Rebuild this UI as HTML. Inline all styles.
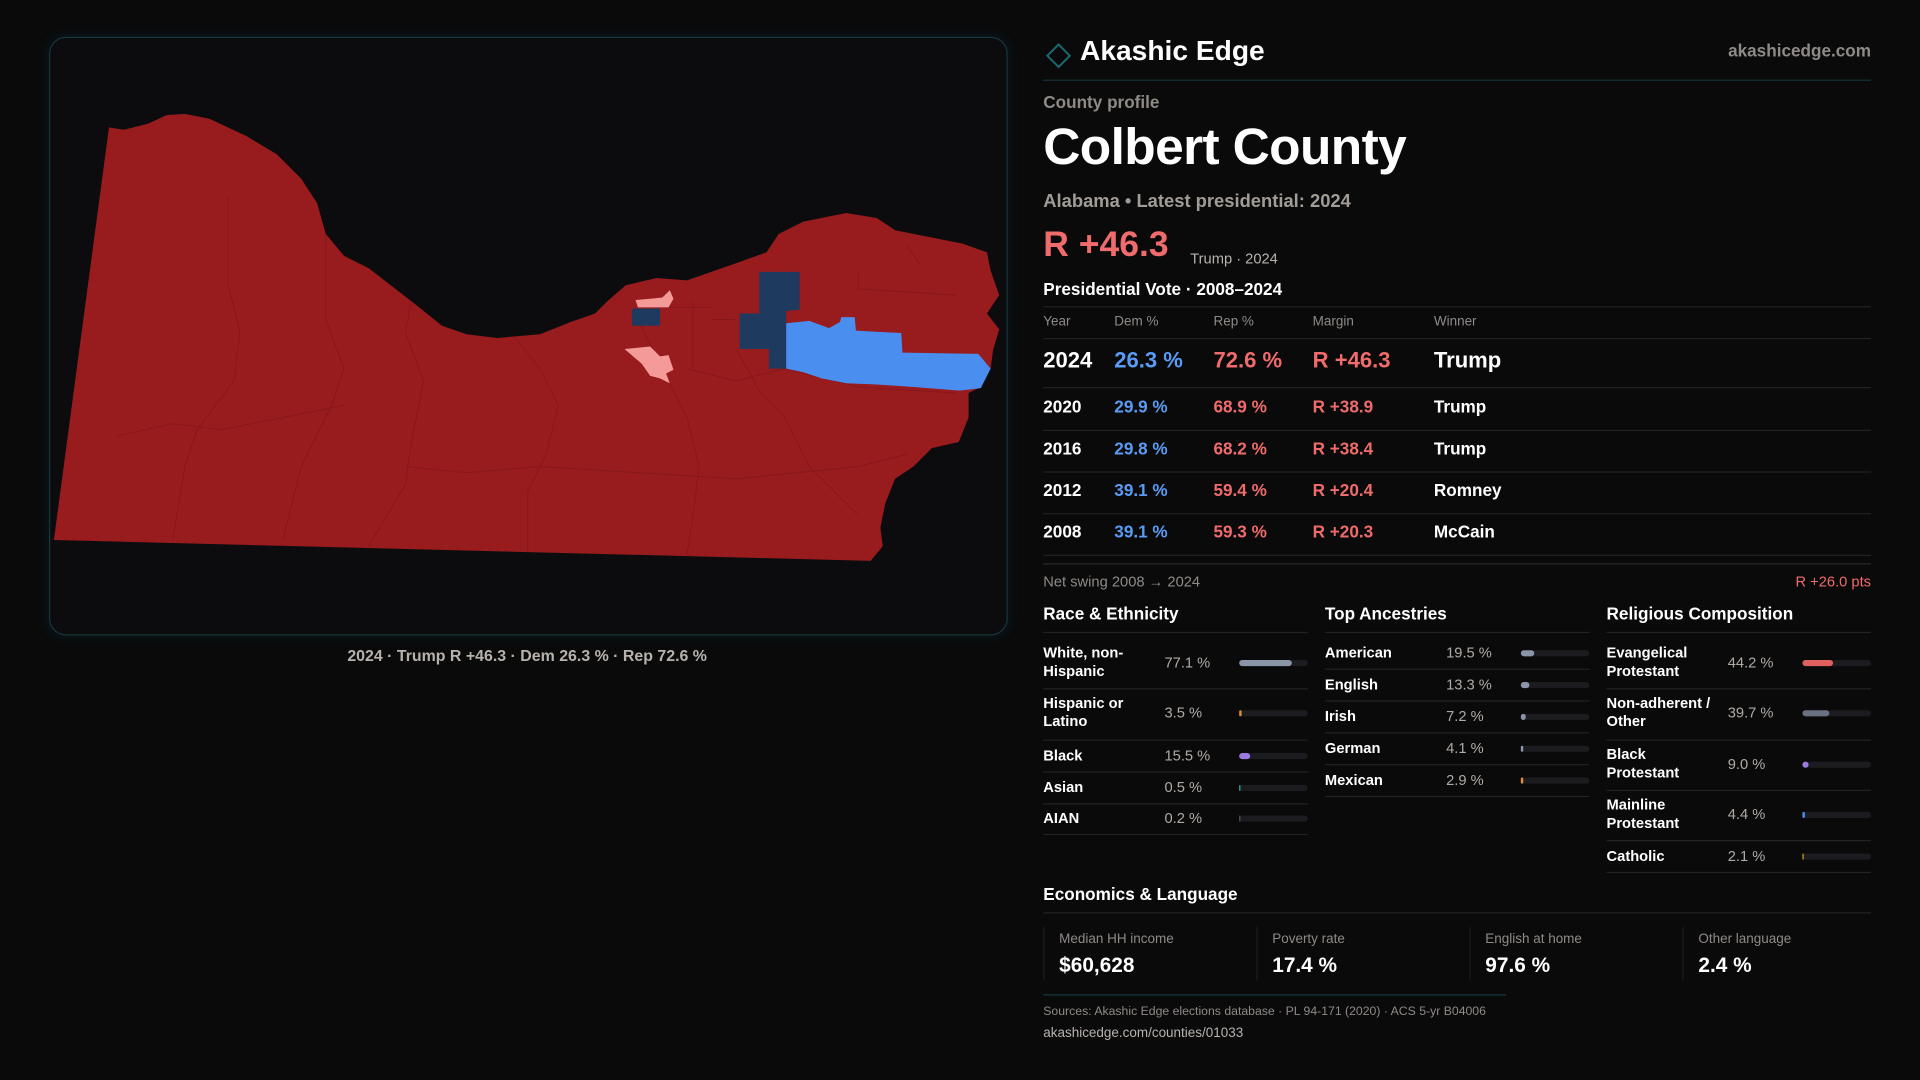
<!DOCTYPE html>
<html><head><meta charset="utf-8">
<style>
html,body{margin:0;padding:0;background:#0a0a0b;width:1920px;height:1080px;overflow:hidden}
#wrap{position:absolute;left:0;top:0;width:1568px;height:882px;transform:scale(1.2244898);transform-origin:0 0;font-family:"Liberation Sans",sans-serif;color:#fff}
.abs{position:absolute;white-space:nowrap}
.line{position:absolute;height:1px;background:#222226}
.gray{color:#8f8a86}
</style></head>
<body>
<div id="wrap">
  <div class="abs" style="left:40px;top:30px;width:781px;height:487px;border:1px solid #15363c;border-radius:14px;background:#0c0c0e;box-shadow:0 0 10px rgba(20,80,90,0.25)">
    <svg width="781" height="487" viewBox="40 30 781 487" style="position:absolute;left:0;top:0">
      <path fill="#981b1e" d="M88,103 L100,105 L120,100 L135,93 L150,92 L170,96 L200,110 L225,125 L245,145 L258,165 L265,190 L280,208 L300,218 L335,245 L360,265 L380,272 L405,275 L440,272 L465,262 L485,255 L495,245 L510,232 L535,226 L560,228 L600,214 L625,205 L635,190 L655,180 L690,173 L715,177 L730,187 L760,193 L785,198 L805,205 L808,220 L815,240 L805,255 L815,268 L810,285 L808,300 L800,315 L790,320 L790,340 L782,360 L760,365 L745,380 L730,390 L722,410 L718,430 L720,445 L710,457 L43,440 Z"/>
      <g stroke="#7d1519" stroke-width="0.7" fill="none" opacity="0.7">
        <path d="M185,160 L185,230 L195,270 L190,310 L160,350 L150,380 L140,440"/>
        <path d="M265,190 L265,260 L280,300 L270,330 L245,380 L230,440"/>
        <path d="M335,245 L330,270 L345,310 L335,360 L330,395 L300,445"/>
        <path d="M420,275 L440,300 L455,330 L445,370 L430,400 L430,450"/>
        <path d="M520,260 L540,300 L560,340 L570,380 L565,420 L560,452"/>
        <path d="M600,283 L620,320 L640,340 L660,380 L680,400 L700,420"/>
        <path d="M330,380 L380,385 L440,380 L520,385 L600,390 L700,380 L740,370"/>
        <path d="M95,355 L140,345 L180,350 L230,340 L280,330"/>
        <path d="M560,300 L600,310 L640,300 L700,315 L780,320"/>
        <path d="M565,245 L565,300 M540,250 L580,250 M580,260 L600,260 M700,220 L700,235 L780,240 M740,200 L750,215"/>
      </g>
      <path fill="#4a8ef0" d="M641,263 L660,261 L676,267 L685,262 L686,258 L697,258 L698,269 L735,271 L736,287 L798,288 L808,300 L800,316 L783,318 L745,315 L715,313 L690,312 L670,308 L655,303 L641,300 Z"/>
      <path fill="#1f3a5f" d="M619,221 L652,221 L652,252 L641,253 L641,300 L627,300 L627,284 L603,284 L603,255 L619,255 Z"/>
      <rect x="515" y="251" width="23" height="14" fill="#1f3a5f"/>
      <path fill="#f49a98" d="M509,284 L530,282 L538,290 L545,289 L549,301 L543,304 L546,312 L538,308 L530,306 L523,296 Z"/>
      <path fill="#f49a98" d="M518,244 L530,243 L540,242 L546,236 L549,243 L545,250 L520,250 Z"/>
    </svg>
  </div>
  <div class="abs" style="left:40px;width:781px;top:528px;text-align:center;font-size:13px;font-weight:bold;color:#b8b2ad">2024 · Trump R +46.3 · Dem 26.3 % · Rep 72.6 %</div>

  <svg class="abs" style="left:852px;top:33px" width="24" height="24"><rect x="6" y="6" width="13" height="13" transform="rotate(45 12.5 12.5)" fill="none" stroke="#1a6a72" stroke-width="1.6"/></svg>
  <div class="abs" style="left:882px;top:28px;font-size:23px;font-weight:bold">Akashic Edge</div>
  <div class="abs" style="right:40px;top:33px;font-size:14px;font-weight:bold;color:#8f8a86">akashicedge.com</div>
  <div class="line" style="left:852px;width:676px;top:65px;background:#183238"></div>
  <div class="abs gray" style="left:852px;top:75px;font-size:14px;font-weight:bold">County profile</div>
  <div class="abs" style="left:852px;top:96px;font-size:42px;font-weight:bold;letter-spacing:-0.5px">Colbert County</div>
  <div class="abs" style="left:852px;top:156px;font-size:15px;font-weight:bold;color:#a29c97">Alabama • Latest presidential: 2024</div>
  <div class="abs" style="left:852px;top:184px;font-size:29px;font-weight:bold;color:#f06b6b">R +46.3</div>
  <div class="abs" style="left:972px;top:204px;font-size:12px;color:#b8b2ad">Trump · 2024</div>
  <div class="abs" style="left:852px;top:228px;font-size:14px;font-weight:bold">Presidential Vote · 2008–2024</div>
  <div id="vote"></div>
  <div class="line" style="left:852px;width:676px;top:460px;background:#2a2a2e"></div>
  <div class="abs gray" style="left:852px;top:468px;font-size:12px">Net swing 2008 → 2024</div>
  <div class="abs" style="right:40px;top:468px;font-size:12px;color:#f06b6b">R +26.0 pts</div>
  <div id="demo"></div>

  <div class="abs" style="left:852px;top:722px;font-size:14px;font-weight:bold">Economics &amp; Language</div>
  <div class="line" style="left:852px;width:676px;top:745px"></div>
  <div id="econ"></div>
  <div class="line" style="left:852px;width:378px;top:812px;background:#153a40"></div>
  <div class="abs gray" style="left:852px;top:821px;font-size:10px">Sources: Akashic Edge elections database · PL 94-171 (2020) · ACS 5-yr B04006</div>
  <div class="abs" style="left:852px;top:838px;font-size:11px;color:#b8b2ad">akashicedge.com/counties/01033</div>
</div>
<script>
const years=["2024","2020","2016","2012","2008"];
const demPct=[26.3,29.9,29.8,39.1,39.1];
const repPct=[72.6,68.9,68.2,59.4,59.3];
const margins=[46.3,38.9,38.4,20.4,20.3];
const winners=["Trump","Trump","Trump","Romney","McCain"];
const raceLabels=["White, non-\nHispanic","Hispanic or\nLatino","Black","Asian","AIAN"];
const raceValues=[77.1,3.5,15.5,0.5,0.2];
const ancLabels=["American","English","Irish","German","Mexican"];
const ancValues=[19.5,13.3,7.2,4.1,2.9];
const relLabels=["Evangelical\nProtestant","Non-adherent /\nOther","Black\nProtestant","Mainline\nProtestant","Catholic"];
const relValues=[44.2,39.7,9.0,4.4,2.1];
const econLabels=["Median HH income","Poverty rate","English at home","Other language"];
const econValues=["$60,628","17.4 %","97.6 %","2.4 %"];

const wrap=document.getElementById('wrap');
function mk(cls,style,text){const d=document.createElement('div');d.className=cls;d.style.cssText=style;if(text!==undefined)d.textContent=text;wrap.appendChild(d);return d;}

const cols=[852,910,991,1072,1171];
const hdr=["Year","Dem %","Rep %","Margin","Winner"];
hdr.forEach((h,i)=>{const e=mk('abs gray','left:'+cols[i]+'px;top:257px;font-size:11px',h);

});
[250,276].forEach(y=>{const l=mk('line','left:852px;width:676px;top:'+y+'px');

});
const rowY=[295,333,367,401,435];
years.forEach((y,i)=>{
  const big=i===0, fs=big?18:14, top=rowY[i]-(big?11:9);
  const vals=[y,demPct[i].toFixed(1)+' %',repPct[i].toFixed(1)+' %','R +'+margins[i].toFixed(1),winners[i]];
  const colors=['#fff','#5a9cf5','#f06b6b','#f06b6b','#fff'];
  vals.forEach((v,j)=>{const e=mk('abs','left:'+cols[j]+'px;top:'+top+'px;font-size:'+fs+'px;font-weight:bold;color:'+colors[j],v);
  
  });
  const l=mk('line','left:852px;width:676px;top:'+(rowY[i]+(big?21:18))+'px');
  
  
});

function section(title,x,labels,values,colors,rowCenters,seps){
  const t=mk('abs','left:'+x+'px;top:493px;font-size:14px;font-weight:bold',title);
  
  
  const u=mk('line','left:'+x+'px;width:216px;top:516px');
  
  
  labels.forEach((lab,i)=>{
    const two=lab.indexOf('\n')>=0;
    const c=rowCenters[i];
    const l=mk('abs','left:'+x+'px;top:'+(c-(two?15:7))+'px;font-size:12px;font-weight:bold;line-height:15px;white-space:pre',lab);
    
    
    const v=mk('abs','left:'+(x+99)+'px;top:'+(c-7)+'px;font-size:12px;color:#b0aaa5',values[i].toFixed(1)+' %');
    
    
    const tr=mk('abs','left:'+(x+160)+'px;top:'+(c-2)+'px;width:56px;height:5px;border-radius:3px;background:#1c1c20');
    
    
    const b=mk('abs','left:'+(x+160)+'px;top:'+(c-2)+'px;width:'+Math.max(1,56*values[i]/100)+'px;height:5px;border-radius:3px;background:'+colors[i]);
    
    
    const s=mk('line','left:'+x+'px;width:216px;top:'+seps[i]+'px');
    
    
  });
}
section('Race & Ethnicity',852,raceLabels,raceValues,['#8a95a8','#e0902a','#9b7be0','#2ab0a0','#555'],[541,582,617,643,668],[562,604,630,656,681]);
section('Top Ancestries',1082,ancLabels,ancValues,['#8a95a8','#8a95a8','#8a95a8','#8a95a8','#e0902a'],[533,559,585,611,637],[546,572,598,624,650]);
section('Religious Composition',1312,relLabels,relValues,['#e06060','#6a7080','#9b7be0','#4a8ef0','#d0a020'],[541,582,624,665,699],[562,604,645,686,712]);

econLabels.forEach((lab,i)=>{
  const x=852+i*174;
  const bd=mk('abs','left:'+x+'px;top:757px;width:1px;height:44px;background:#1c1c20');
  
  
  const l=mk('abs gray','left:'+(x+13)+'px;top:761px;font-size:11px',lab);
  
  
  const v=mk('abs','left:'+(x+13)+'px;top:779px;font-size:17px;font-weight:bold',econValues[i]);
  
  
});
</script>
</body></html>
